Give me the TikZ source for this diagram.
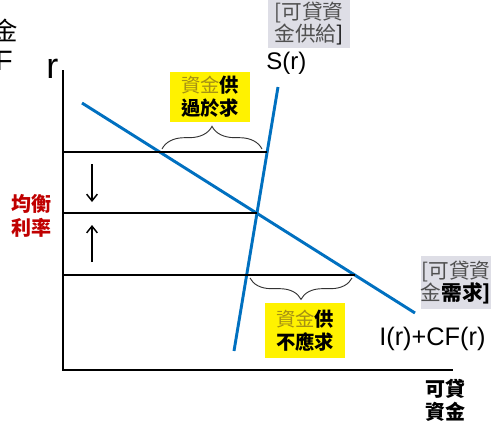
\documentclass[tikz,border=0pt]{standalone}
\usepackage{fontspec}
\setmainfont{Liberation Sans}
\newfontfamily\cjk{Noto Sans CJK TC}
\usetikzlibrary{decorations.pathreplacing,arrows.meta}
\definecolor{myblue}{HTML}{0070C0}
\definecolor{myred}{HTML}{C00000}
\definecolor{mygold}{RGB}{165,145,20}
\definecolor{mygraybg}{RGB}{222,222,230}
\definecolor{mygraytx}{RGB}{80,80,80}
\tikzset{
  curve/.style={myblue,line width=2.2pt},
  axis/.style={black,line width=1.5pt},
  level/.style={black,line width=1.4pt},
  bracebr/.style={black!80,line width=0.7pt,decorate,decoration={brace,amplitude=#1}},
  moveArrow/.style={black,line width=1.1pt,-{Straight Barb[length=5pt,width=8pt]}},
  yellowbox/.style={fill=yellow,inner sep=0pt,minimum width=60pt,align=center,font=\cjk\fontsize{14.5}{17}\selectfont},
  graybox/.style={fill=mygraybg,inner sep=0pt,align=center,font=\cjk\fontsize{15.5}{16.5}\selectfont},
  cjklabel/.style={inner sep=0pt,align=center,font=\cjk\bfseries\fontsize{15}{17.5}\selectfont},
}
\begin{document}
\begin{tikzpicture}[x=0.75pt,y=-0.75pt]
\useasboundingbox (0,0) rectangle (495,425);
% partially visible texts at the left edge (cut off in the reference as well)
\node[anchor=east,inner sep=0pt,font=\cjk\fontsize{19}{19}\selectfont] (kin) at (18,30) {金};
\node[anchor=base east,inner sep=0pt,font=\fontsize{21}{21}\selectfont] (ftxt) at (13,70) {F};
% axes
\coordinate (origin) at (63,370);
\coordinate (ytop) at (63,70);
\coordinate (xend) at (453,370);
\draw[axis] (ytop) -- (origin) -- (xend);
\node[anchor=base west,inner sep=0pt,font=\fontsize{27}{27}\selectfont] (rlab) at (46,78) {r};
% curves
\coordinate (d1) at (82,103);
\coordinate (d2) at (415,313);
\coordinate (s1) at (234,351);
\coordinate (s2) at (278,87);
\draw[curve] (d1) -- (d2);
\draw[curve] (s1) -- (s2);
% levels
\coordinate (h1a) at (63,152); \coordinate (h1b) at (267,152);
\coordinate (h2a) at (63,213); \coordinate (h2b) at (257,213);
\coordinate (h3a) at (63,275); \coordinate (h3b) at (355,275);
\draw[black,line width=0.9pt] (h1a) -- (h1b);
\draw[level] (h2a) -- (h2b);
\draw[level] (h3a) -- (h3b);
% arrows
\coordinate (a1s) at (92,164); \coordinate (a1e) at (92,202);
\coordinate (a2s) at (92,262); \coordinate (a2e) at (92,225);
\draw[moveArrow] (a1s) -- (a1e);
\draw[moveArrow] (a2s) -- (a2e);
% braces
\coordinate (b1a) at (162,149); \coordinate (b1b) at (262,149);
\coordinate (b2a) at (352,278); \coordinate (b2b) at (250,278);
\draw[bracebr=17pt] (b1a) -- (b1b);
\draw[bracebr=16pt] (b2a) -- (b2b);
% boxes
\node[yellowbox,minimum height=37.5pt] (ex1) at (210,97) {\textcolor{mygold}{資金}\textbf{供}\\\textbf{過於求}};
\node[yellowbox,minimum height=41pt] (ex2) at (305,330.5) {\textcolor{mygold}{資金}\textbf{供}\\\textbf{不應求}};
\node[graybox,minimum width=61pt,minimum height=36pt] (sup) at (309,23.5) {\textcolor{mygraytx}{[可貸資}\\\textcolor{mygraytx}{金供給}]};
\node[graybox,minimum width=51pt,minimum height=40pt] (dem) at (456,282.5) {\textcolor{mygraytx}{[可貸資}\\\textcolor{mygraytx}{金}\textbf{需求]}};
% labels
\node[anchor=base west,inner sep=0pt,font=\fontsize{18}{18}\selectfont] (slab) at (266,69) {S(r)};
\node[anchor=base west,inner sep=0pt,font=\fontsize{19}{19}\selectfont] (dlab) at (379,345) {I(r)+CF(r)};
\node[cjklabel,text=myred] (eq) at (32,216) {均衡\\利率};
\node[cjklabel] (xlab) at (445,400) {可貸\\資金};
\end{tikzpicture}
\end{document}
